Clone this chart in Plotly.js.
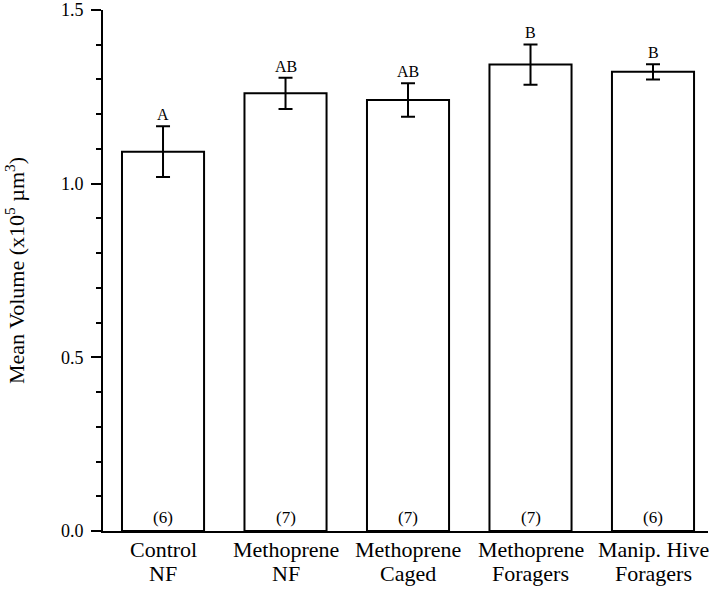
<!DOCTYPE html>
<html>
<head>
<meta charset="utf-8">
<script src="https://cdn.plot.ly/plotly-3.0.1.min.js"></script>
<style>html,body{margin:0;padding:0;background:#fff;}#chart{width:720px;height:590px;}</style>
</head>
<body>
<div id="chart"></div>
<script>
const categoryLine1 = ["Control", "Methoprene", "Methoprene", "Methoprene", "Manip. Hive"];
const categoryLine2 = ["NF", "NF", "Caged", "Foragers", "Foragers"];
const meanVolume = [1.092, 1.260, 1.241, 1.343, 1.322];
const semError = [0.073, 0.045, 0.048, 0.058, 0.022];
const groupLetters = ["A", "AB", "AB", "B", "B"];
const sampleSizes = ["(6)", "(7)", "(7)", "(7)", "(6)"];
const yTickVals = [0, 0.5, 1.0, 1.5];
const yTickText = ["0.0", "0.5", "1.0", "1.5"];

const xIdx = categoryLine1.map((c, i) => i);
const serif = "Liberation Serif, Times New Roman, serif";

const trace = {
  type: "bar",
  x: xIdx,
  y: meanVolume,
  width: 0.67,
  marker: {color: "#ffffff", line: {color: "#000000", width: 2}},
  error_y: {type: "data", array: semError, visible: true, color: "#000000", thickness: 2, width: 7},
  hoverinfo: "skip"
};

const annotations = [];
xIdx.forEach((i) => {
  annotations.push({
    x: i, y: meanVolume[i] + semError[i], xref: "x", yref: "y",
    text: groupLetters[i], showarrow: false, yanchor: "bottom", yshift: 1,
    font: {family: serif, size: 16, color: "#000"}
  });
  annotations.push({
    x: i, y: 0, xref: "x", yref: "y",
    text: sampleSizes[i], showarrow: false, yanchor: "bottom", yshift: 2,
    font: {family: serif, size: 17, color: "#000"}
  });
  annotations.push({
    x: i, y: 0, xref: "x", yref: "paper",
    text: categoryLine1[i], showarrow: false, yanchor: "top", yshift: -5, borderpad: 0,
    font: {family: serif, size: 22, color: "#000"}
  });
  annotations.push({
    x: i, y: 0, xref: "x", yref: "paper",
    text: categoryLine2[i], showarrow: false, yanchor: "top", yshift: -29, borderpad: 0,
    font: {family: serif, size: 22, color: "#000"}
  });
});

const layout = {
  width: 720, height: 590,
  margin: {l: 103, r: 12, t: 10, b: 59},
  paper_bgcolor: "#ffffff", plot_bgcolor: "#ffffff",
  showlegend: false,
  font: {family: serif, color: "#000"},
  xaxis: {
    range: [-0.49, 4.449],
    tickvals: xIdx, showticklabels: false,
    showline: true, linecolor: "#000", linewidth: 2,
    ticks: "", showgrid: false, zeroline: false,
    fixedrange: true
  },
  yaxis: {
    range: [0, 1.5],
    tickvals: yTickVals, ticktext: yTickText,
    ticks: "outside", ticklen: 10, tickwidth: 2, tickcolor: "#000",
    ticklabelstandoff: 4,
    minor: {dtick: 0.1, ticks: "outside", ticklen: 5, tickwidth: 2, tickcolor: "#000", showgrid: false},
    showline: true, linecolor: "#000", linewidth: 2,
    showgrid: false, zeroline: false,
    tickfont: {family: serif, size: 18, color: "#000"},
    title: {text: "Mean Volume (x10<sup>5</sup> µm<sup>3</sup>)", font: {family: serif, size: 22, color: "#000"}, standoff: 30},
    fixedrange: true
  },
  annotations: annotations
};

Plotly.newPlot("chart", [trace], layout, {displayModeBar: false, staticPlot: true});
</script>
</body>
</html>
